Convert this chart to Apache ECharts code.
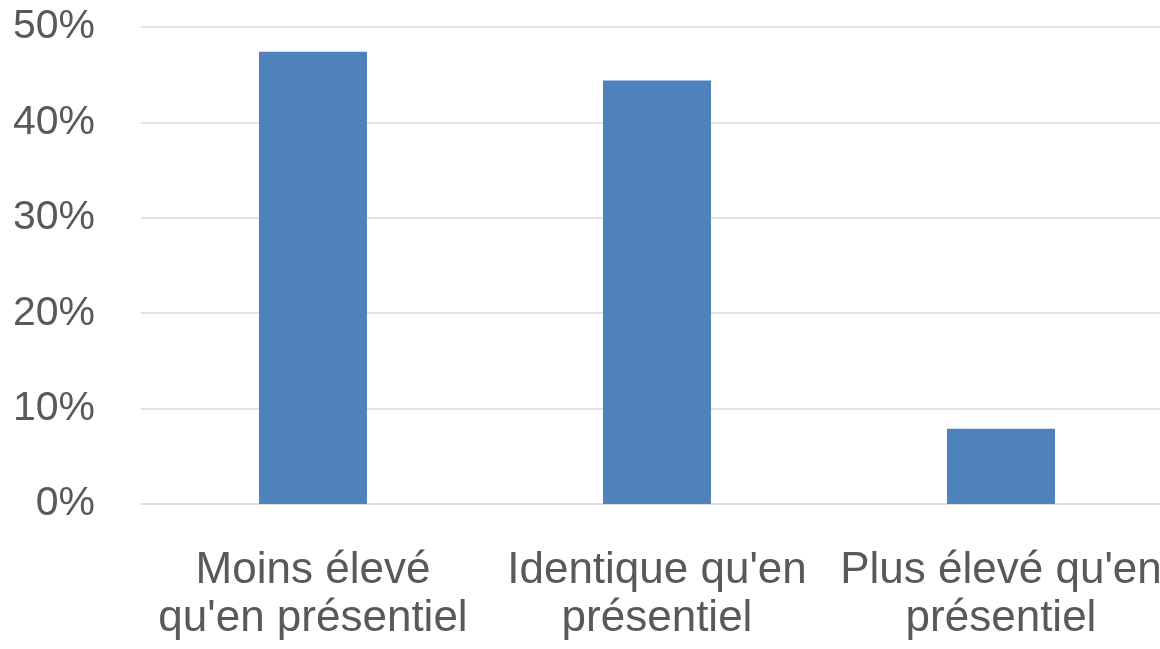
<!DOCTYPE html>
<html>
<head>
<meta charset="utf-8">
<script src="https://cdn.jsdelivr.net/npm/echarts@6/dist/echarts.min.js"></script>
<style>
  html, body { margin: 0; padding: 0; background: #ffffff; }
  #chart { width: 1160px; height: 649px; }
</style>
</head>
<body>
<div id="chart"></div>
<script>
// Coût ressenti par rapport au présentiel (part des répondants, %)
const categories = [
  "Moins élevé\nqu'en présentiel",
  "Identique qu'en\nprésentiel",
  "Plus élevé qu'en\nprésentiel"
];
const shares = [47.4, 44.4, 7.9];
const yTicks = [0, 10, 20, 30, 40, 50];

const FONT = "'Liberation Sans', Arial, sans-serif";
const TEXT = '#595959';

const chart = echarts.init(document.getElementById('chart'), null, { renderer: 'canvas' });
chart.setOption({
  animation: false,
  backgroundColor: '#ffffff',
  // the plot runs slightly past the right edge of the canvas
  grid: { left: 141, top: 27, right: -13, height: 477, containLabel: false, outerBoundsMode: 'none' },
  xAxis: {
    type: 'category',
    data: categories,
    axisLine: { show: true, lineStyle: { color: '#d9d9d9', width: 1.5 } },
    axisTick: { show: false },
    axisLabel: {
      color: TEXT, fontFamily: FONT, fontSize: 44, lineHeight: 48,
      margin: 43, interval: 0, align: 'center'
    }
  },
  yAxis: {
    type: 'value',
    min: yTicks[0],
    max: yTicks[yTicks.length - 1],
    interval: yTicks[1] - yTicks[0],
    axisLine: { show: false },
    axisTick: { show: false },
    splitLine: { lineStyle: { color: '#d9d9d9', width: 1.5 } },
    axisLabel: {
      color: TEXT, fontFamily: FONT, fontSize: 41, margin: 46,
      formatter: v => v + '%'
    }
  },
  series: [{
    type: 'bar',
    data: shares,
    barWidth: 108,
    itemStyle: { color: '#4f81bd' }
  }]
});
</script>
</body>
</html>
